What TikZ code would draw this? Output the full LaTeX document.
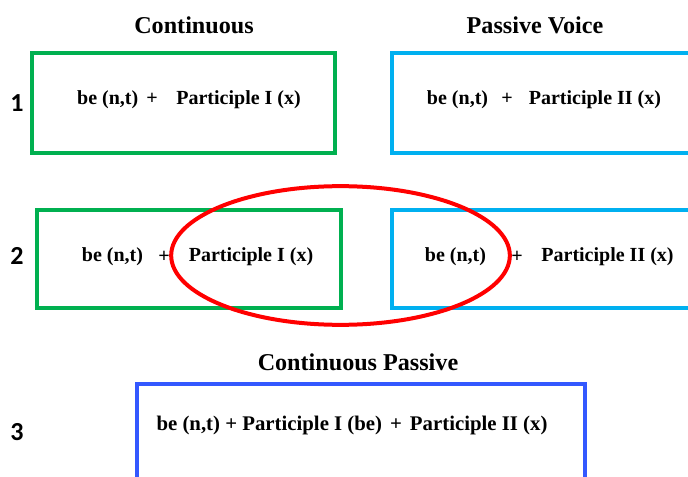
\documentclass[tikz,border=0pt]{standalone}
\usepackage{fontspec}
\setmainfont{Liberation Serif}
\newfontfamily\numfont{Carlito}
\usetikzlibrary{shapes.geometric}

\definecolor{contgreen}{HTML}{00B050}
\definecolor{passblue}{HTML}{00B0F0}
\definecolor{bothblue}{HTML}{3358FF}

\begin{document}
\begin{tikzpicture}[x=0.75pt,y=-0.75pt,
box/.style={draw,line width=3pt,rectangle,inner sep=0pt},
title/.style={font=\fontsize{18.1}{20}\selectfont\bfseries},
row/.style={font=\numfont\fontsize{19.5}{20}\selectfont\bfseries},
form/.style={font=\fontsize{15}{16}\selectfont\bfseries,inner sep=0pt},
ring/.style={draw=red,line width=3pt,ellipse,inner sep=0pt}]
\useasboundingbox (0,0) rectangle (688,477);

\node[title] (tcont) at (194,25) {Continuous};
\node[title] (tpass) at (535,25) {Passive Voice};
\node[title] (tboth) at (358,362) {Continuous Passive};

\node[row] (n1) at (17,103) {1};
\node[row] (n2) at (17,256) {2};
\node[row] (n3) at (17,432) {3};

\node[box,draw=contgreen,minimum width=227.25pt,minimum height=75pt] (c1) at (183.5,103) {};
\node[box,draw=passblue,minimum width=231pt,minimum height=75pt] (p1) at (546,103) {};
\node[box,draw=contgreen,minimum width=228pt,minimum height=73.5pt] (c2) at (189,259) {};
\node[box,draw=passblue,minimum width=231pt,minimum height=73.5pt] (p2) at (546,259) {};
\node[box,draw=bothblue,minimum width=336pt,minimum height=102pt] (b3) at (361,452) {};

\node[form] (c1txt) at (189,100) {be (n,t)\hspace{6pt}+\hspace{14pt}Participle I (x)};
\node[form] (p1txt) at (544,100) {be (n,t)\hspace{10pt}+\hspace{12pt}Participle II (x)};

\node[form] (c2be) at (112.5,257) {be (n,t)};
\node[form] (c2plus) at (164,257) {+};
\node[form] (c2part) at (251,257) {Participle I (x)};
\node[form] (p2be) at (455.5,257) {be (n,t)};
\node[form] (p2plus) at (517,257) {+};
\node[form] (p2part) at (607.5,257) {Participle II (x)};

\node[form,font=\fontsize{15.6}{16}\selectfont\bfseries] (b3txt) at (352,425)
{be (n,t) + Participle I (be)\hspace{6pt}+\hspace{6pt}Participle II (x)};

\node[ring,minimum width=254pt,minimum height=104pt] (shared) at (340.5,255.5) {};
\end{tikzpicture}
\end{document}
